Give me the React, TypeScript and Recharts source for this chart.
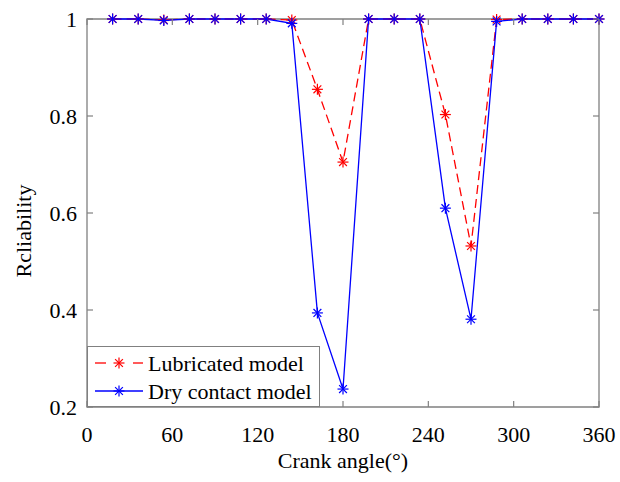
import { LineChart, Line, XAxis, YAxis, ReferenceArea } from 'recharts';

// crank angle (deg) and reliability of both models
const angles = [18, 36, 54, 72, 90, 108, 126, 144, 162, 180, 198, 216, 234, 252, 270, 288, 306, 324, 342, 360];
const lubricated = [1, 1, 0.998, 1, 1, 1, 1, 0.998, 0.855, 0.705, 1, 1, 1, 0.803, 0.532, 0.999, 1, 1, 1, 1];
const dryContact = [1, 1, 0.997, 1, 1, 1, 1, 0.991, 0.394, 0.237, 1, 1, 1, 0.61, 0.381, 0.995, 1, 1, 1, 1];
const xTicks = [0, 60, 120, 180, 240, 300, 360];
const yTicks = [0.2, 0.4, 0.6, 0.8, 1];

const W = 620;
const H = 482;
const L = 87;
const T = 19;
const R = 599;
const B = 407;
const FONT = "'Liberation Serif', 'DejaVu Serif', serif";
const GRAY = '#808080';
const RED = '#ff0000';
const BLUE = '#0000ff';
const txt = { fontFamily: FONT, fontSize: 22 };

const data = angles.map((a, i) => ({ angle: a, lub: lubricated[i], dry: dryContact[i] }));

function Star({ cx, cy, color }: { cx: number; cy: number; color: string }) {
  const r = 5.5;
  const d = 3.9;
  return (
    <g stroke={color} strokeWidth={1.2}>
      <line x1={cx - r} x2={cx + r} y1={cy} y2={cy} />
      <line x1={cx} x2={cx} y1={cy - r} y2={cy + r} />
      <line x1={cx - d} y1={cy - d} x2={cx + d} y2={cy + d} />
      <line x1={cx - d} y1={cy + d} x2={cx + d} y2={cy - d} />
    </g>
  );
}

function XTick({ x, payload }: any) {
  return (
    <g>
      <line x1={x} x2={x} y1={B} y2={B - 6} stroke={GRAY} strokeWidth={1.2} />
      <line x1={x} x2={x} y1={T} y2={T + 6} stroke={GRAY} strokeWidth={1.2} />
      <text x={x} y={442} textAnchor="middle" style={txt} fill="#000">
        {payload.value}
      </text>
    </g>
  );
}

function YTick({ y, payload }: any) {
  const v = payload.value;
  return (
    <g>
      <line x1={L} x2={L + 6} y1={y} y2={y} stroke={GRAY} strokeWidth={1.2} />
      <line x1={R} x2={R - 6} y1={y} y2={y} stroke={GRAY} strokeWidth={1.2} />
      <text x={77} y={y} dy="0.35em" textAnchor="end" style={txt} fill="#000">
        {v === 1 ? '1' : v.toFixed(1)}
      </text>
    </g>
  );
}

function LegendBox() {
  return (
    <div
      style={{
        position: 'absolute',
        left: L,
        top: 346,
        width: 233,
        height: 61,
        boxSizing: 'border-box',
        border: `1.3px solid ${GRAY}`,
        background: '#fff',
      }}
    >
      <svg width={233} height={61} style={{ position: 'absolute', left: -1, top: -1 }}>
        <line x1={8} x2={19} y1={17} y2={17} stroke={RED} strokeWidth={1.3} />
        <line x1={46} x2={56} y1={17} y2={17} stroke={RED} strokeWidth={1.3} />
        <Star cx={32} cy={17} color={RED} />
        <text x={61} y={17} dy="0.35em" style={txt} fill="#000">
          Lubricated model
        </text>
        <line x1={8} x2={56} y1={45} y2={45} stroke={BLUE} strokeWidth={1.3} />
        <Star cx={32} cy={45} color={BLUE} />
        <text x={61} y={45} dy="0.35em" style={txt} fill="#000">
          Dry contact model
        </text>
      </svg>
    </div>
  );
}

export default function App() {
  return (
    <div style={{ position: 'absolute', left: 0, top: 0, width: W, height: H, background: '#fff', fontFamily: FONT }}>
      <LineChart width={W} height={H} data={data} margin={{ top: T, right: W - R, bottom: 0, left: 0 }}>
        <XAxis
          dataKey="angle"
          type="number"
          domain={[0, 360]}
          ticks={xTicks}
          height={H - B}
          axisLine={false}
          tickLine={false}
          tick={<XTick />}
          label={(p: any) => (
            <text
              x={p.viewBox ? p.viewBox.x + p.viewBox.width / 2 : 343}
              y={468}
              textAnchor="middle"
              style={txt}
              fill="#000"
            >
              Crank angle(°)
            </text>
          )}
        />
        <YAxis
          type="number"
          domain={[0.2, 1]}
          ticks={yTicks}
          width={L}
          axisLine={false}
          tickLine={false}
          tick={<YTick />}
          label={() => (
            <text
              x={23}
              y={231}
              dy="0.35em"
              transform="rotate(-90, 23, 231)"
              textAnchor="middle"
              style={txt}
              fill="#000"
            >
              Rcliability
            </text>
          )}
        />
        <ReferenceArea x1={0} x2={360} y1={0.2} y2={1} fill="none" stroke={GRAY} strokeWidth={1.3} ifOverflow="visible" />
        <Line
          dataKey="lub"
          type="linear"
          stroke={RED}
          strokeWidth={1.3}
          strokeDasharray="9 5"
          isAnimationActive={false}
          activeDot={false}
          dot={(p: any) => <Star key={`l${p.index}`} cx={p.cx} cy={p.cy} color={RED} />}
        />
        <Line
          dataKey="dry"
          type="linear"
          stroke={BLUE}
          strokeWidth={1.3}
          isAnimationActive={false}
          activeDot={false}
          dot={(p: any) => <Star key={`d${p.index}`} cx={p.cx} cy={p.cy} color={BLUE} />}
        />
      </LineChart>
      <LegendBox />
    </div>
  );
}
